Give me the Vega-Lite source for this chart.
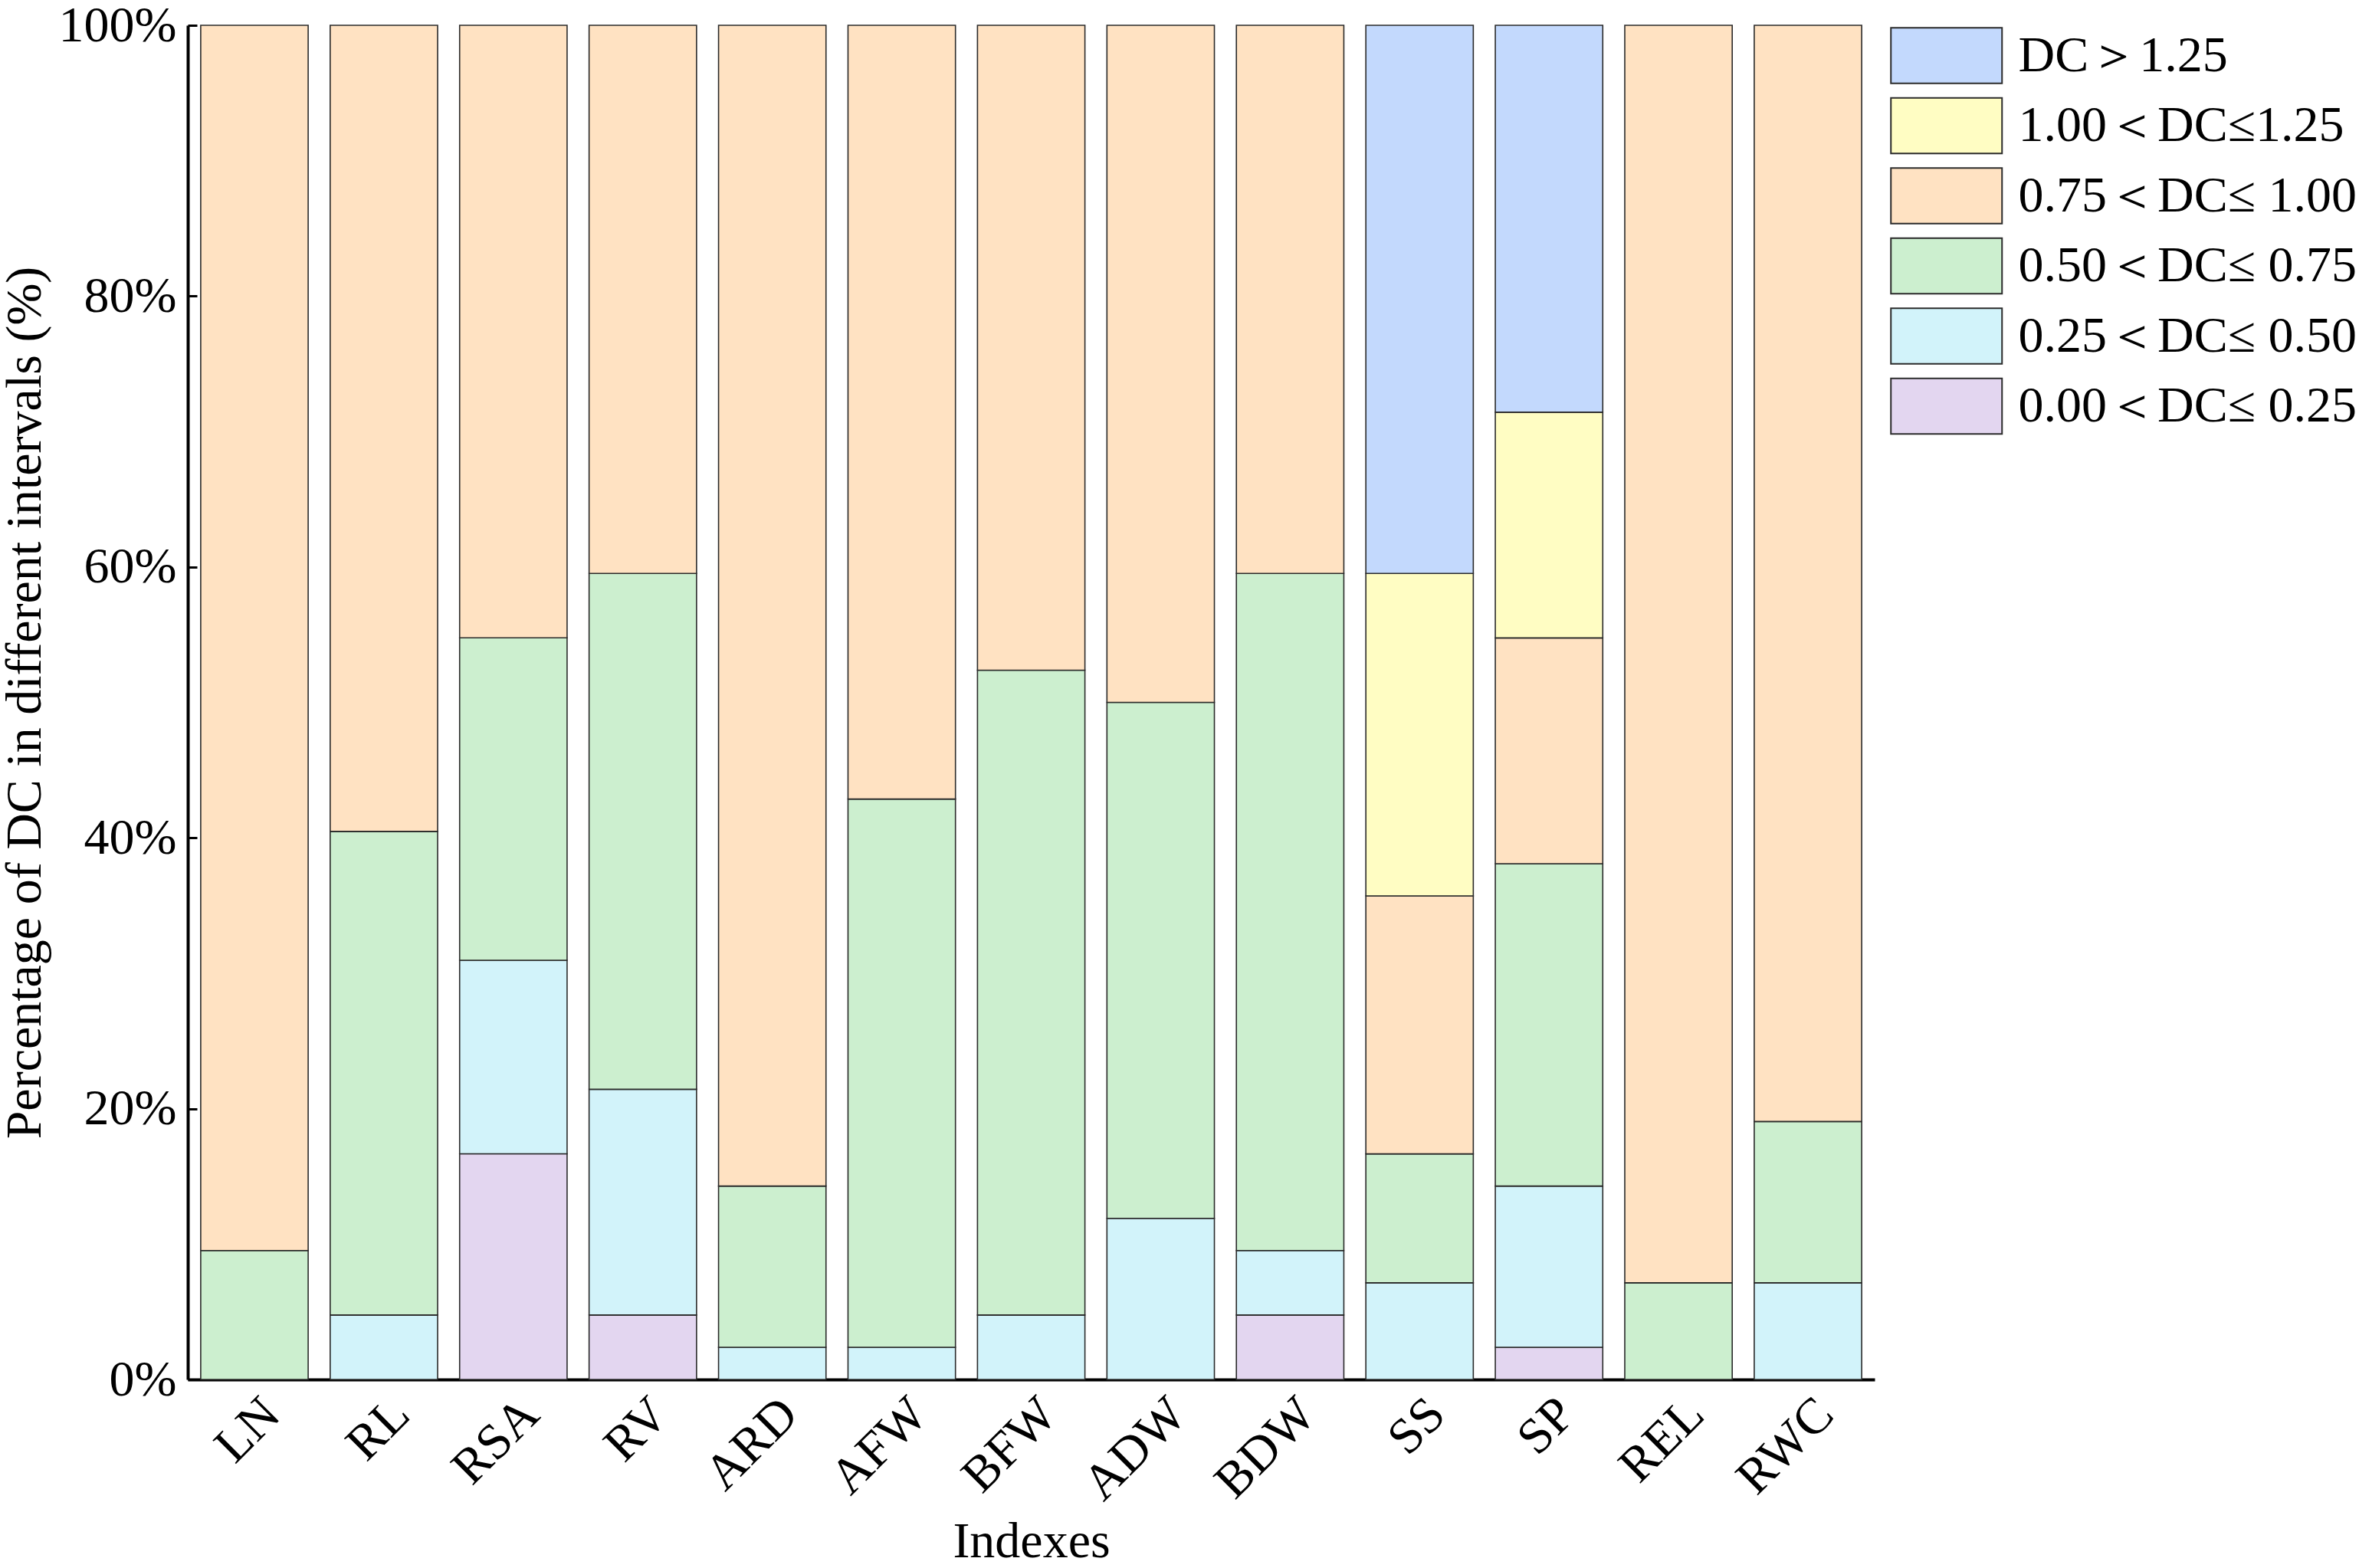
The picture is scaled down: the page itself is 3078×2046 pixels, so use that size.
{
  "$schema": "https://vega.github.io/schema/vega-lite/v6.json",
  "autosize": "none",
  "padding": {"left": 245, "top": 33, "right": 632, "bottom": 246},
  "width": 2201,
  "height": 1767,
  "background": "white",
  "config": {
    "view": {"stroke": null},
    "font": "Liberation Serif",
    "axis": {
      "labelFont": "Liberation Serif",
      "titleFont": "Liberation Serif",
      "labelFontSize": 66,
      "titleFontSize": 66,
      "titleFontWeight": "normal",
      "labelColor": "black",
      "titleColor": "black",
      "domainColor": "black",
      "domainWidth": 4,
      "tickColor": "black",
      "tickWidth": 3,
      "tickSize": -12,
      "grid": false
    },
    "legend": {
      "labelFont": "Liberation Serif",
      "labelFontSize": 66,
      "labelColor": "black",
      "labelLimit": 0
    }
  },
  "data": {
    "values": [
      {"index": "LN", "cls": "0.50＜DC≤ 0.75", "rank": 3, "pct": 9.52},
      {"index": "LN", "cls": "0.75＜DC≤ 1.00", "rank": 4, "pct": 90.48},
      {"index": "RL", "cls": "0.25＜DC≤ 0.50", "rank": 2, "pct": 4.76},
      {"index": "RL", "cls": "0.50＜DC≤ 0.75", "rank": 3, "pct": 35.71},
      {"index": "RL", "cls": "0.75＜DC≤ 1.00", "rank": 4, "pct": 59.53},
      {"index": "RSA", "cls": "0.00＜DC≤ 0.25", "rank": 1, "pct": 16.67},
      {"index": "RSA", "cls": "0.25＜DC≤ 0.50", "rank": 2, "pct": 14.29},
      {"index": "RSA", "cls": "0.50＜DC≤ 0.75", "rank": 3, "pct": 23.81},
      {"index": "RSA", "cls": "0.75＜DC≤ 1.00", "rank": 4, "pct": 45.23},
      {"index": "RV", "cls": "0.00＜DC≤ 0.25", "rank": 1, "pct": 4.76},
      {"index": "RV", "cls": "0.25＜DC≤ 0.50", "rank": 2, "pct": 16.67},
      {"index": "RV", "cls": "0.50＜DC≤ 0.75", "rank": 3, "pct": 38.09},
      {"index": "RV", "cls": "0.75＜DC≤ 1.00", "rank": 4, "pct": 40.48},
      {"index": "ARD", "cls": "0.25＜DC≤ 0.50", "rank": 2, "pct": 2.38},
      {"index": "ARD", "cls": "0.50＜DC≤ 0.75", "rank": 3, "pct": 11.9},
      {"index": "ARD", "cls": "0.75＜DC≤ 1.00", "rank": 4, "pct": 85.72},
      {"index": "AFW", "cls": "0.25＜DC≤ 0.50", "rank": 2, "pct": 2.38},
      {"index": "AFW", "cls": "0.50＜DC≤ 0.75", "rank": 3, "pct": 40.48},
      {"index": "AFW", "cls": "0.75＜DC≤ 1.00", "rank": 4, "pct": 57.14},
      {"index": "BFW", "cls": "0.25＜DC≤ 0.50", "rank": 2, "pct": 4.76},
      {"index": "BFW", "cls": "0.50＜DC≤ 0.75", "rank": 3, "pct": 47.62},
      {"index": "BFW", "cls": "0.75＜DC≤ 1.00", "rank": 4, "pct": 47.62},
      {"index": "ADW", "cls": "0.25＜DC≤ 0.50", "rank": 2, "pct": 11.9},
      {"index": "ADW", "cls": "0.50＜DC≤ 0.75", "rank": 3, "pct": 38.1},
      {"index": "ADW", "cls": "0.75＜DC≤ 1.00", "rank": 4, "pct": 50.0},
      {"index": "BDW", "cls": "0.00＜DC≤ 0.25", "rank": 1, "pct": 4.76},
      {"index": "BDW", "cls": "0.25＜DC≤ 0.50", "rank": 2, "pct": 4.76},
      {"index": "BDW", "cls": "0.50＜DC≤ 0.75", "rank": 3, "pct": 50.0},
      {"index": "BDW", "cls": "0.75＜DC≤ 1.00", "rank": 4, "pct": 40.48},
      {"index": "SS", "cls": "0.25＜DC≤ 0.50", "rank": 2, "pct": 7.14},
      {"index": "SS", "cls": "0.50＜DC≤ 0.75", "rank": 3, "pct": 9.52},
      {"index": "SS", "cls": "0.75＜DC≤ 1.00", "rank": 4, "pct": 19.05},
      {"index": "SS", "cls": "1.00＜DC≤1.25", "rank": 5, "pct": 23.81},
      {"index": "SS", "cls": "DC＞1.25", "rank": 6, "pct": 40.48},
      {"index": "SP", "cls": "0.00＜DC≤ 0.25", "rank": 1, "pct": 2.38},
      {"index": "SP", "cls": "0.25＜DC≤ 0.50", "rank": 2, "pct": 11.9},
      {"index": "SP", "cls": "0.50＜DC≤ 0.75", "rank": 3, "pct": 23.81},
      {"index": "SP", "cls": "0.75＜DC≤ 1.00", "rank": 4, "pct": 16.67},
      {"index": "SP", "cls": "1.00＜DC≤1.25", "rank": 5, "pct": 16.67},
      {"index": "SP", "cls": "DC＞1.25", "rank": 6, "pct": 28.57},
      {"index": "REL", "cls": "0.50＜DC≤ 0.75", "rank": 3, "pct": 7.14},
      {"index": "REL", "cls": "0.75＜DC≤ 1.00", "rank": 4, "pct": 92.86},
      {"index": "RWC", "cls": "0.25＜DC≤ 0.50", "rank": 2, "pct": 7.14},
      {"index": "RWC", "cls": "0.50＜DC≤ 0.75", "rank": 3, "pct": 11.91},
      {"index": "RWC", "cls": "0.75＜DC≤ 1.00", "rank": 4, "pct": 80.95}
    ]
  },
  "mark": {"type": "bar", "stroke": "#2b2b2b", "strokeWidth": 1.6},
  "encoding": {
    "x": {
      "field": "index",
      "type": "nominal",
      "sort": ["LN", "RL", "RSA", "RV", "ARD", "AFW", "BFW", "ADW", "BDW", "SS", "SP", "REL", "RWC"],
      "scale": {"paddingInner": 0.17, "paddingOuter": 0.1},
      "axis": {
        "title": "Indexes",
        "labelAngle": -45,
        "labelPadding": 24,
        "titlePadding": 10
      }
    },
    "y": {
      "field": "pct",
      "type": "quantitative",
      "stack": "zero",
      "scale": {"domain": [0, 100], "nice": false},
      "axis": {
        "title": "Percentage of DC in different intervals (%)",
        "values": [0, 20, 40, 60, 80, 100],
        "labelExpr": "datum.value + '%'",
        "labelPadding": 27,
        "titlePadding": 10
      }
    },
    "order": {"field": "rank", "type": "quantitative", "sort": "ascending"},
    "color": {
      "field": "cls",
      "type": "nominal",
      "scale": {
        "domain": ["DC＞1.25", "1.00＜DC≤1.25", "0.75＜DC≤ 1.00", "0.50＜DC≤ 0.75", "0.25＜DC≤ 0.50", "0.00＜DC≤ 0.25"],
        "range": ["#C3D9FD", "#FFFDC3", "#FFE2C2", "#CCEFCF", "#D2F3FA", "#E3D6F0"]
      },
      "legend": {
        "title": null,
        "orient": "none",
        "legendX": 2293.5,
        "legendY": 2,
        "padding": 0,
        "symbolType": "M-3,-1H1V1H-3Z",
        "symbolSize": 5256,
        "symbolStrokeColor": "#2b2b2b",
        "symbolStrokeWidth": 2,
        "symbolOpacity": 1,
        "labelOffset": 20,
        "rowPadding": 10.5
      }
    }
  }
}
